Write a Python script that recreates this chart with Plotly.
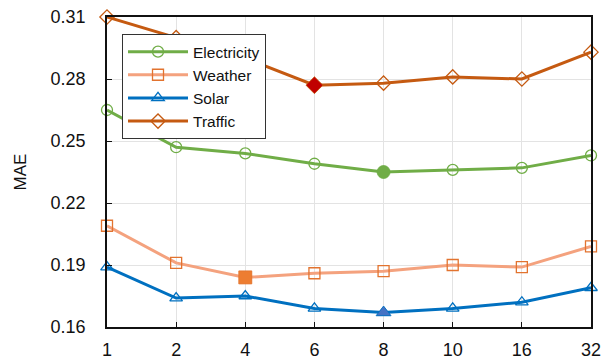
import plotly.graph_objects as go

# Patch length settings and MAE per dataset
patch_sizes = ["1", "2", "4", "6", "8", "10", "16", "32"]
electricity = [0.265, 0.247, 0.244, 0.239, 0.235, 0.236, 0.237, 0.243]
weather = [0.209, 0.191, 0.184, 0.186, 0.187, 0.190, 0.189, 0.199]
solar = [0.189, 0.174, 0.175, 0.169, 0.167, 0.169, 0.172, 0.179]
traffic = [0.310, 0.300, 0.290, 0.277, 0.278, 0.281, 0.280, 0.293]

# Best setting per dataset (index into patch_sizes)
best_electricity = 4
best_weather = 2
best_solar = 4
best_traffic = 3

y_ticks = [0.16, 0.19, 0.22, 0.25, 0.28, 0.31]

series = [
    ("Electricity", electricity, "#70AD47", "#70AD47", "circle-open", "circle", "#70AD47", best_electricity, 11),
    ("Weather", weather, "#F4A27E", "#E2732F", "square-open", "square", "#ED7D31", best_weather, 11),
    ("Solar", solar, "#0070C0", "#0070C0", "triangle-up-open", "triangle-up", "#4472C4", best_solar, 11),
    ("Traffic", traffic, "#C55A11", "#C55A11", "diamond-open", "diamond", "#C00000", best_traffic, 11),
]

fig = go.Figure()
for name, vals, line_c, mk_c, sym, sym_fill, fill_c, best, size in series:
    fig.add_trace(go.Scatter(
        x=patch_sizes, y=vals, name=name, mode="lines+markers",
        line=dict(color=line_c, width=3),
        marker=dict(symbol=sym, size=size, color=mk_c, line=dict(width=1.3, color=mk_c)),
        cliponaxis=False,
    ))
for name, vals, line_c, mk_c, sym, sym_fill, fill_c, best, size in series:
    fig.add_trace(go.Scatter(
        x=[patch_sizes[best]], y=[vals[best]], mode="markers", showlegend=False,
        marker=dict(symbol=sym_fill, size=size + 2, color=fill_c, line=dict(width=0.8, color=mk_c)),
        cliponaxis=False,
    ))

axis_font = dict(family="Liberation Sans, Arial, sans-serif", size=18, color="#111")

fig.update_layout(
    width=603, height=362,
    margin=dict(l=107, r=12, t=17, b=35),
    paper_bgcolor="white", plot_bgcolor="white",
    font=axis_font,
    showlegend=True,
    legend=dict(
        x=0.031, y=0.945, xanchor="left", yanchor="top",
        bgcolor="white", bordercolor="#333", borderwidth=1,
        font=dict(family="Liberation Sans, Arial, sans-serif", size=15.5, color="#111"),
        itemwidth=60, tracegroupgap=0, entrywidth=168, entrywidthmode="pixels",
    ),
    xaxis=dict(
        type="category", range=[0, 7], automargin=False,
        showgrid=True, gridcolor="#E3E3E3", gridwidth=1,
        showline=True, linecolor="#111", linewidth=1.5, mirror=True,
        ticks="inside", ticklen=5, tickcolor="#111",
        tickfont=axis_font, zeroline=False, ticklabelstandoff=6,
    ),
    yaxis=dict(
        range=[0.16, 0.31], tickvals=y_ticks, tickformat=".2f", automargin=False,
        showgrid=True, gridcolor="#E3E3E3", gridwidth=1,
        showline=True, linecolor="#111", linewidth=1.5, mirror=True,
        ticks="inside", ticklen=5, tickcolor="#111",
        tickfont=axis_font, zeroline=False, ticklabelstandoff=16,
        title=dict(text="MAE", font=dict(family="Liberation Sans, Arial, sans-serif", size=17, color="#111"), standoff=20),
    ),
)

fig.write_html("out.html")
